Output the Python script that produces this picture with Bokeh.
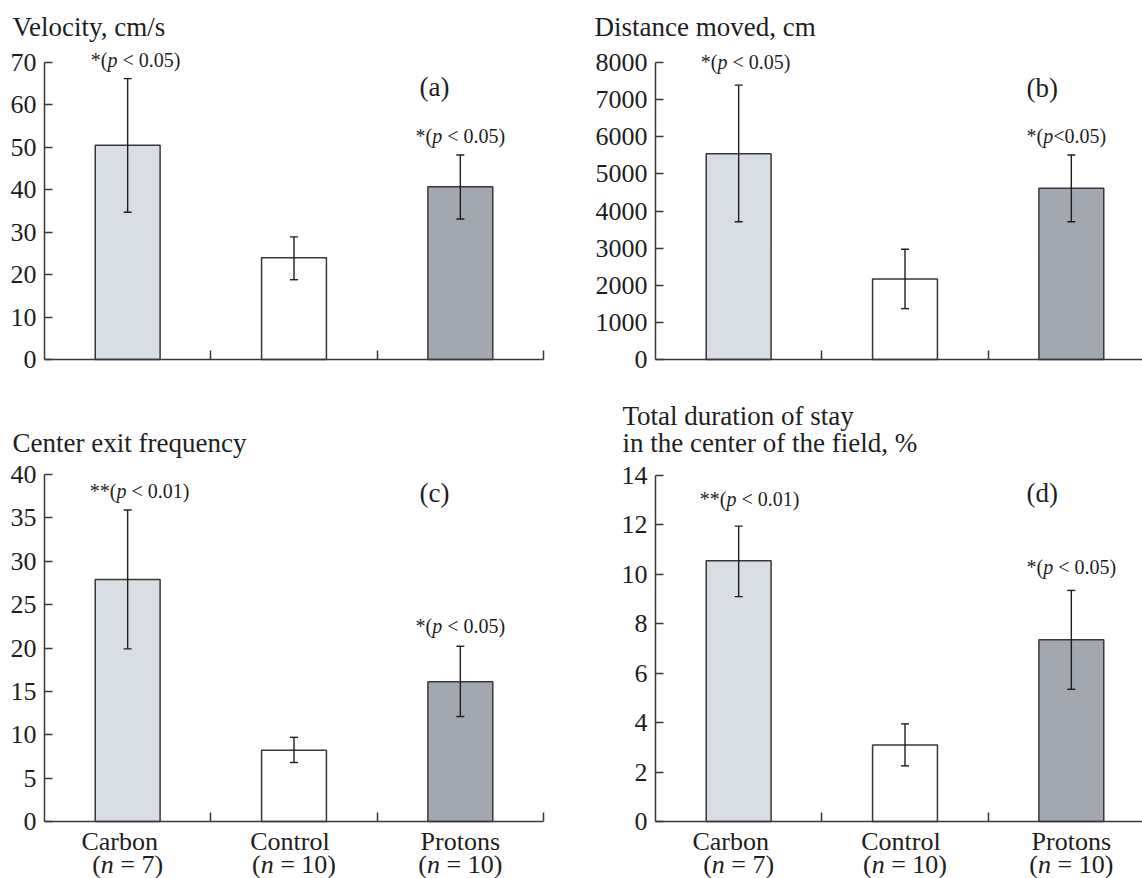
from bokeh.plotting import figure
from bokeh.models import Range1d, FixedTicker, Label, Whisker, TeeHead, ColumnDataSource
from bokeh.layouts import column, row
from bokeh.embed import file_html
from bokeh.resources import INLINE

# ---------------- data ----------------
categories = ["Carbon", "Control", "Protons"]
group_sizes = ["7", "10", "10"]
bar_colors = ["#d9dde4", "#ffffff", "#a2a7b0"]

velocity_mean = [50.5, 24.0, 40.7]
velocity_low = [34.7, 18.8, 33.1]
velocity_high = [66.2, 28.9, 48.2]
velocity_ticks = [0, 10, 20, 30, 40, 50, 60, 70]

distance_mean = [5540, 2170, 4610]
distance_low = [3710, 1370, 3710]
distance_high = [7390, 2970, 5510]
distance_ticks = [0, 1000, 2000, 3000, 4000, 5000, 6000, 7000, 8000]

exits_mean = [27.9, 8.2, 16.1]
exits_low = [19.9, 6.8, 12.1]
exits_high = [35.9, 9.7, 20.2]
exits_ticks = [0, 5, 10, 15, 20, 25, 30, 35, 40]

stay_mean = [10.55, 3.1, 7.35]
stay_low = [9.1, 2.25, 5.35]
stay_high = [11.95, 3.95, 9.35]
stay_ticks = [0, 2, 4, 6, 8, 10, 12, 14]

titles = {
    "a": ["Velocity, cm/s"],
    "b": ["Distance moved, cm"],
    "c": ["Center exit frequency"],
    "d": ["Total duration of stay", "in the center of the field, %"],
}
sig_05 = [("*(", "normal"), ("p", "italic"), (" < 0.05)", "normal")]
sig_05_tight = [("*(", "normal"), ("p", "italic"), ("<0.05)", "normal")]
sig_01 = [("**(", "normal"), ("p", "italic"), (" < 0.01)", "normal")]

FONT = "Liberation Serif"
INK = "#1e1e1e"
LINE = "#383838"

# Times / Liberation Serif advance widths (1/1000 em)
ADV = {"*": 500, "(": 333, ")": 333, " ": 250, "<": 564, "=": 564, ".": 250}


def tw(s, size):
    return sum(ADV.get(ch, 500) for ch in s) * size / 1000.0


def rich_label(p, x, y, segments, size, dx=0.0, dy=0.0):
    total = sum(tw(s, size) for s, _ in segments)
    pos = dx - total / 2.0
    for s, style in segments:
        lead = len(s) - len(s.lstrip(" "))
        pos += tw(" " * lead, size)
        core = s.strip(" ")
        p.add_layout(Label(x=x, y=y, x_offset=pos, y_offset=dy, text=core,
                           text_font=FONT, text_font_size=f"{size}px",
                           text_font_style=style, text_color=INK,
                           text_align="left", text_baseline="middle"))
        pos += tw(core, size)
        trail = len(s) - len(s.rstrip(" "))
        pos += tw(" " * trail, size)


def make_panel(key, mean, low, high, ticks, canvas, axis_px, title_dx, title_dys,
               notes, letter_xy, bottom_labels):
    # canvas: (x0, y0, W, H) in page pixels; axis_px: (x at 0, x at 3, y at 0, y at max)
    cx0, cy0, W, H = canvas
    ax0, ax3, ay0, aytop = axis_px
    ymax = ticks[-1]
    ppx = (ax3 - ax0) / 3.0
    ppy = (ay0 - aytop) / float(ymax)
    x_start = (cx0 - ax0) / ppx
    x_end = x_start + W / ppx
    y_end = ymax + (aytop - cy0) / ppy
    y_start = y_end - H / ppy

    p = figure(width=W, height=H, x_range=Range1d(x_start, x_end),
               y_range=Range1d(y_start, y_end), output_backend="svg",
               toolbar_location=None, min_border=0, min_border_left=0,
               min_border_right=0, min_border_top=0, min_border_bottom=0,
               background_fill_color="white", border_fill_color="white")
    p.outline_line_color = None
    p.xgrid.visible = False
    p.ygrid.visible = False

    xs = [i + 0.5 for i in range(len(categories))]
    src = ColumnDataSource(dict(x=xs, top=mean, low=low, high=high, color=bar_colors))
    p.vbar(x="x", top="top", bottom=0, width=0.39, source=src, fill_color="color",
           line_color=LINE, line_width=1.5)
    wh = Whisker(source=src, base="x", upper="high", lower="low", level="annotation",
                 line_color=INK, line_width=1.4,
                 upper_head=TeeHead(size=8, line_color=INK, line_width=1.4),
                 lower_head=TeeHead(size=8, line_color=INK, line_width=1.4))
    p.add_layout(wh)

    ax = p.yaxis[0]
    ax.fixed_location = 0
    ax.bounds = (0, ymax)
    ax.ticker = FixedTicker(ticks=ticks)
    ax.major_tick_in = 8
    ax.major_tick_out = 0
    ax.minor_tick_in = 0
    ax.minor_tick_out = 0
    ax.major_label_standoff = 8
    ax.major_label_text_font = FONT
    ax.major_label_text_font_size = "26px"
    ax.major_label_text_color = INK
    ax.axis_line_color = LINE
    ax.axis_line_width = 1.5
    ax.major_tick_line_color = LINE
    ax.major_tick_line_width = 1.5

    bx = p.xaxis[0]
    bx.fixed_location = 0
    bx.bounds = (0, 3)
    bx.ticker = FixedTicker(ticks=[], minor_ticks=[1, 2, 3])
    bx.major_tick_in = 0
    bx.major_tick_out = 0
    bx.minor_tick_in = 9
    bx.minor_tick_out = 0
    bx.axis_line_color = LINE
    bx.axis_line_width = 1.5
    bx.minor_tick_line_color = LINE
    bx.minor_tick_line_width = 1.5

    for line, dy in zip(titles[key], title_dys):
        p.add_layout(Label(x=0, y=ymax, x_offset=title_dx, y_offset=dy, text=line,
                           text_font=FONT, text_font_size="27px", text_color=INK,
                           text_align="left", text_baseline="middle"))

    for idx, segs, yv, dx in notes:
        rich_label(p, xs[idx], yv, segs, 20, dx=dx, dy=1)

    p.add_layout(Label(x=letter_xy[0], y=letter_xy[1], text=f"({key})", text_font=FONT,
                       text_font_size="27px", text_color=INK, text_align="center",
                       text_baseline="middle"))

    if bottom_labels:
        shifts = [-8, -4, 0]
        for i, (cat, n) in enumerate(zip(categories, group_sizes)):
            p.add_layout(Label(x=xs[i], y=0, x_offset=shifts[i], y_offset=-20, text=cat,
                               text_font=FONT, text_font_size="26px", text_color=INK,
                               text_align="center", text_baseline="middle"))
            rich_label(p, xs[i], 0, [("(", "normal"), ("n", "italic"), (f" = {n})", "normal")],
                       26, dx=0, dy=-43)
    return p


pa = make_panel("a", velocity_mean, velocity_low, velocity_high, velocity_ticks,
                (0, 0, 570, 380), (44, 543, 359, 62), -32, [36],
                [(0, sig_05, 70.3, 8), (2, sig_05, 52.5, 0)], (2.345, 64.2), False)
pb = make_panel("b", distance_mean, distance_low, distance_high, distance_ticks,
                (570, 0, 572, 380), (655, 1154, 359, 62), -61, [36],
                [(0, sig_05, 8000, 7), (2, sig_05_tight, 6000, -5)], (2.325, 7320), False)
pc = make_panel("c", exits_mean, exits_low, exits_high, exits_ticks,
                (0, 380, 570, 498), (44, 543, 821, 474), -32, [32],
                [(0, sig_01, 38.0, 12), (2, sig_05, 22.4, 0)], (2.345, 37.9), True)
pd_ = make_panel("d", stay_mean, stay_low, stay_high, stay_ticks,
                 (570, 380, 572, 498), (655, 1154, 821, 475), -33, [60, 33],
                 [(0, sig_01, 13.02, 11), (2, sig_05, 10.26, 0)], (2.325, 13.3), True)

layout = column(row(pa, pb), row(pc, pd_))
open("out.html", "w").write(file_html(layout, INLINE))
